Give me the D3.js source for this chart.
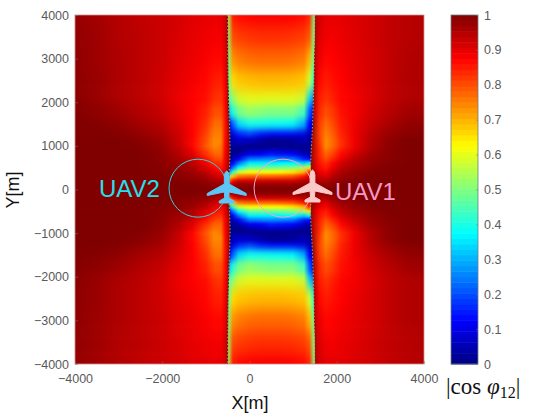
<!DOCTYPE html>
<html>
<head>
<meta charset="utf-8">
<style>
  html, body { margin: 0; padding: 0; background: #fff; }
  svg { display: block; }
  text { font-family: "Liberation Sans", sans-serif; }
  .tick text { fill: #5a5a5a; font-size: 12.5px; font-family: "Liberation Sans", sans-serif; }
  .tick line { stroke: #777; stroke-opacity: 0.5; }
  .domain { stroke: none; }
</style>
<script src="https://cdn.jsdelivr.net/npm/d3@7"></script>
</head>
<body>
<svg id="chart" width="535" height="414"></svg>
<script>
// upper half of the map (lower half looks the same)
const rowY = [4000, 3500, 3000, 2500, 2000, 1750, 1500, 1250, 1100, 1000, 900, 800, 700, 600, 500, 400, 300, 200, 100, 0];
const edgeLeft = [-500, -500, -495, -490, -480, -470, -460, -450, -450, -445, -445, -450, -450, -455, -460, -465, -470, -480, -490, -500];
const edgeRight = [1495, 1490, 1485, 1475, 1465, 1455, 1445, 1435, 1425, 1420, 1415, 1410, 1405, 1400, 1400, 1400, 1405, 1410, 1420, 1430];

const leftX = [-4000, -3500, -3000, -2500, -2000, -1600, -1300, -1000, -800, -650, -560];
const leftValues = [
  [.98, .965, .95, .935, .925, .915, .905, .90, .895, .90, .92, .95],
  [.98, .97, .95, .94, .925, .91, .90, .89, .885, .885, .91, .95],
  [.985, .97, .955, .94, .925, .905, .895, .88, .87, .87, .90, .95],
  [.985, .975, .955, .94, .92, .90, .885, .87, .85, .845, .885, .955],
  [.99, .975, .955, .94, .92, .89, .875, .86, .83, .82, .87, .96],
  [.995, .985, .97, .95, .93, .90, .875, .845, .80, .80, .865, .965],
  [1, .995, .985, .965, .945, .91, .875, .83, .77, .77, .86, .97],
  [1, 1, .995, .98, .96, .92, .875, .81, .75, .755, .86, .97],
  [1, 1, 1, .99, .97, .925, .87, .80, .74, .75, .865, .97],
  [1, 1, 1, .995, .975, .93, .87, .79, .74, .76, .87, .97],
  [1, 1, 1, 1, .98, .94, .89, .81, .76, .77, .875, .97],
  [1, 1, 1, 1, .985, .95, .905, .83, .78, .78, .88, .97],
  [1, 1, 1, 1, .985, .96, .925, .86, .81, .80, .885, .97],
  [1, 1, 1, 1, .99, .97, .94, .89, .84, .83, .89, .97],
  [1, 1, 1, 1, .99, .975, .955, .91, .87, .85, .90, .97],
  [1, 1, 1, 1, .995, .985, .97, .94, .90, .88, .92, .975],
  [1, 1, 1, 1, 1, .99, .98, .96, .93, .91, .935, .98],
  [1, 1, 1, 1, 1, .995, .99, .98, .96, .95, .96, .985],
  [1, 1, 1, 1, 1, 1, 1, .99, .98, .98, .98, .99],
  [1, 1, 1, 1, 1, 1, 1, 1, 1, 1, 1, 1]
];

const centreX = [-380, -250, 0, 250, 500, 750, 1000, 1250, 1370];
const centreValues = [
  [.55, .85, .865, .875, .88, .88, .88, .875, .865, .84, .50],
  [.52, .80, .815, .825, .83, .83, .83, .825, .815, .79, .50],
  [.50, .735, .755, .77, .775, .775, .775, .77, .755, .70, .48],
  [.48, .66, .68, .69, .695, .695, .695, .69, .68, .58, .42],
  [.45, .51, .58, .60, .60, .60, .60, .60, .57, .33, .25],
  [.33, .41, .49, .525, .51, .50, .50, .50, .44, .22, .14],
  [.13, .22, .34, .39, .39, .385, .38, .37, .29, .13, .07],
  [.06, .09, .15, .18, .14, .115, .12, .11, .09, .05, .04],
  [.04, .05, .07, .065, .04, .02, .02, .03, .05, .03, .03],
  [.03, .03, .03, .01, .01, .01, .01, .01, .015, .02, .02],
  [.02, .01, 0, .04, .05, .07, .06, .05, .02, .02, .03],
  [.02, .02, .05, .11, .12, .15, .14, .13, .07, .04, .05],
  [.03, .05, .11, .24, .25, .26, .25, .24, .15, .13, .12],
  [.07, .11, .24, .36, .36, .36, .37, .375, .33, .375, .30],
  [.14, .24, .375, .48, .48, .48, .49, .50, .55, .65, .55],
  [.28, .42, .58, .62, .62, .62, .63, .65, .70, .84, .75],
  [.50, .68, .76, .78, .78, .78, .79, .80, .86, .92, .88],
  [.75, .87, .92, .92, .92, .92, .92, .92, .95, .96, .95],
  [.95, .97, .985, .985, .985, .985, .985, .985, .985, .985, .98],
  [.99, 1, 1, 1, 1, 1, 1, 1, 1, 1, .99]
];

const rightX = [1600, 1750, 1900, 2100, 2400, 2800, 3200, 3600, 4000];
const rightValues = [
  [.95, .92, .90, .90, .90, .91, .92, .935, .945, .95],
  [.95, .91, .89, .885, .895, .905, .92, .935, .945, .95],
  [.95, .895, .87, .875, .885, .90, .915, .935, .95, .955],
  [.955, .87, .85, .86, .875, .895, .915, .935, .95, .955],
  [.96, .85, .825, .845, .87, .885, .91, .935, .95, .955],
  [.965, .84, .80, .82, .86, .885, .92, .945, .965, .97],
  [.97, .82, .77, .80, .85, .89, .93, .96, .98, .985],
  [.97, .81, .75, .78, .84, .89, .945, .975, .99, .995],
  [.97, .82, .74, .77, .83, .89, .95, .985, 1, 1],
  [.97, .83, .74, .77, .83, .89, .955, .985, 1, 1],
  [.97, .84, .76, .79, .85, .905, .96, .99, 1, 1],
  [.97, .84, .78, .81, .87, .92, .97, .99, 1, 1],
  [.97, .85, .80, .84, .89, .94, .975, .99, 1, 1],
  [.97, .86, .83, .87, .92, .955, .98, .995, 1, 1],
  [.97, .87, .85, .89, .935, .965, .985, 1, 1, 1],
  [.975, .90, .88, .92, .955, .98, .995, 1, 1, 1],
  [.98, .925, .91, .945, .97, .985, 1, 1, 1, 1],
  [.985, .955, .95, .97, .985, .995, 1, 1, 1, 1],
  [.99, .98, .98, .99, .995, 1, 1, 1, 1, 1],
  [1, 1, 1, 1, 1, 1, 1, 1, 1, 1]
];

const yTicks = [-4000, -3000, -2000, -1000, 0, 1000, 2000, 3000, 4000];
const xTicks = [-4000, -2000, 0, 2000, 4000];
const barTicks = [0, 0.1, 0.2, 0.3, 0.4, 0.5, 0.6, 0.7, 0.8, 0.9, 1];

const uavs = [
  { name: "UAV2", x: -522, y: 57, circleX: -1180, circleY: 30, circle: "#2fd3dc", plane: "#5cc6f7", text: "#1fe0ee", labelX: 99, labelY: 197 },
  { name: "UAV1", x: 1444, y: 80, circleX: 770, circleY: 30, circle: "#f3a6c8", plane: "#fcc9c9", text: "#f29ac4", labelX: 335, labelY: 200 }
];
const planeShape = [[0, -16], [1.6, -14.5], [2.4, -11], [2.4, -3], [19.5, 6.5], [19.5, 8.5], [2.4, 5], [2, 11], [7.5, 14], [7.5, 16], [-7.5, 16], [-7.5, 14], [-2, 11], [-2.4, 5], [-19.5, 8.5], [-19.5, 6.5], [-2.4, -3], [-2.4, -11], [-1.6, -14.5]];

const margin = { top: 15, right: 111, bottom: 50, left: 75 };
const width = 535 - margin.left - margin.right;
const height = 414 - margin.top - margin.bottom;

const x = d3.scaleLinear().domain([-4000, 4000]).range([margin.left, margin.left + width]);
const y = d3.scaleLinear().domain([-4000, 4000]).range([margin.top + height, margin.top]);
const offset = d3.scaleLinear().domain([-4000, 4000]).range([0, 1]);

const jet = d3.scaleLinear()
  .domain([0, 0.125, 0.375, 0.625, 0.875, 1])
  .range(["#000080", "#0000ff", "#00ffff", "#ffff00", "#ff0000", "#800000"]);

const svg = d3.select("#chart");
const defs = svg.append("defs");

defs.append("clipPath").attr("id", "plot-clip").append("rect")
  .attr("x", margin.left).attr("y", margin.top).attr("width", width).attr("height", height);

function addBlur(id, sd) {
  defs.append("filter").attr("id", id).attr("filterUnits", "userSpaceOnUse")
    .attr("x", 0).attr("y", -100).attr("width", 535).attr("height", 614)
    .attr("color-interpolation-filters", "sRGB")
    .append("feGaussianBlur").attr("stdDeviation", "0 " + sd);
}
addBlur("blur-far", 7);
addBlur("blur-mid", 3.5);
addBlur("blur-near", 1.6);

// one row per table line, the lower half is the upper half flipped
const rows = [];
rowY.forEach((v, i) => {
  rows.push({ v, i });
  if (v !== 0) rows.push({ v: -v, i });
});
rows.sort((a, b) => b.v - a.v);
rows.forEach((r, k) => {
  const up = k === 0 ? 4400 : (rows[k - 1].v + r.v) / 2;
  const down = k === rows.length - 1 ? -4400 : (rows[k + 1].v + r.v) / 2;
  r.top = y(up);
  r.bottom = y(down);
  r.id = "row-" + k;
  const stops = [];
  leftX.forEach((c, j) => stops.push([c, leftValues[r.i][j]]));
  stops.push([edgeLeft[r.i], leftValues[r.i][11]]);
  stops.push([edgeLeft[r.i], centreValues[r.i][0]]);
  centreX.forEach((c, j) => stops.push([c, centreValues[r.i][j + 1]]));
  stops.push([edgeRight[r.i], centreValues[r.i][10]]);
  stops.push([edgeRight[r.i], rightValues[r.i][0]]);
  rightX.forEach((c, j) => stops.push([c, rightValues[r.i][j + 1]]));
  defs.append("linearGradient").attr("id", r.id)
    .attr("gradientUnits", "userSpaceOnUse")
    .attr("x1", x(-4000)).attr("x2", x(4000)).attr("y1", 0).attr("y2", 0)
    .selectAll("stop").data(stops).join("stop")
    .attr("offset", d => offset(d[0]))
    .attr("stop-color", d => jet(d[1]));
});

const map = svg.append("g").attr("clip-path", "url(#plot-clip)");

function drawRows(data, filter) {
  map.append("g").attr("filter", filter)
    .selectAll("rect").data(data).join("rect")
    .attr("x", margin.left).attr("width", width)
    .attr("y", d => d.top)
    .attr("height", d => d.bottom - d.top + 0.5)
    .attr("fill", d => "url(#" + d.id + ")");
}
drawRows(rows, "url(#blur-far)");
drawRows(rows.filter(r => Math.abs(r.v) <= 1750), "url(#blur-mid)");
drawRows(rows.filter(r => Math.abs(r.v) <= 1100), "url(#blur-near)");

// dotted seams along both discontinuities
[edgeLeft, edgeRight].forEach(edge => {
  const seam = d3.line().x(d => x(edge[d.i])).y(d => y(d.v));
  map.append("path").attr("d", seam(rows)).attr("fill", "none")
    .attr("stroke", "#3a1010").attr("stroke-width", 0.9).attr("stroke-opacity", edge === edgeLeft ? 0.7 : 0.3);
  map.append("path").attr("d", seam(rows)).attr("fill", "none")
    .attr("stroke", "#a8d48c").attr("stroke-width", 1).attr("stroke-opacity", 0.8).attr("stroke-dasharray", "1.5 2");
});

// plot frame
svg.append("rect").attr("x", margin.left).attr("y", margin.top)
  .attr("width", width).attr("height", height)
  .attr("fill", "none").attr("stroke", "#c98f8f").attr("stroke-width", 0.8);

svg.append("g").attr("transform", "translate(0," + (margin.top + height) + ")")
  .call(d3.axisBottom(x).tickValues(xTicks).tickFormat(d3.format("d")).tickSize(-3).tickPadding(10));
svg.append("g").attr("transform", "translate(" + margin.left + ",0)")
  .call(d3.axisLeft(y).tickValues(yTicks).tickFormat(d3.format("d")).tickSize(-3).tickPadding(6));

svg.append("text").attr("x", 250).attr("y", 409).attr("text-anchor", "middle")
  .attr("font-size", 18).attr("fill", "#111").text("X[m]");
svg.append("text").attr("transform", "translate(19,190) rotate(-90)").attr("text-anchor", "middle")
  .attr("font-size", 18).attr("fill", "#111").text("Y[m]");

// UAV markers
const planeLine = d3.line().curve(d3.curveLinearClosed);
const rPx = 29;
uavs.forEach(u => {
  svg.append("circle").attr("cx", x(u.circleX)).attr("cy", y(u.circleY)).attr("r", rPx)
    .attr("fill", "none").attr("stroke", u.circle).attr("stroke-width", 1);
  svg.append("path").attr("transform", "translate(" + x(u.x) + "," + y(u.y) + ")")
    .attr("d", planeLine(planeShape)).attr("fill", u.plane)
    .attr("stroke", u.plane).attr("stroke-width", 1).attr("stroke-linejoin", "round");
  svg.append("text").attr("x", u.labelX).attr("y", u.labelY)
    .attr("font-size", 24).attr("fill", u.text).text(u.name);
});

// colorbar
const barX = 451, barW = 27;
const barY = d3.scaleLinear().domain([0, 1]).range([margin.top + height, margin.top]);
const levels = d3.range(64).map(i => i / 64);
svg.append("g").selectAll("rect").data(levels).join("rect")
  .attr("x", barX).attr("width", barW)
  .attr("y", d => barY(d + 1 / 64))
  .attr("height", d => barY(d) - barY(d + 1 / 64) + 0.5)
  .attr("fill", d => jet(d + 1 / 128));
svg.append("rect").attr("x", barX).attr("y", margin.top).attr("width", barW).attr("height", height)
  .attr("fill", "none").attr("stroke", "#6f7f7f").attr("stroke-width", 0.8);
svg.append("g").attr("transform", "translate(" + (barX + barW) + ",0)")
  .call(d3.axisRight(barY).tickValues(barTicks).tickFormat(d => String(d)).tickSize(-2).tickPadding(6));

// colorbar caption
const caption = svg.append("text").attr("x", 446).attr("y", 394)
  .attr("font-size", 23).attr("fill", "#111")
  .style("font-family", "'Liberation Serif', serif");
caption.append("tspan").text("|cos ");
caption.append("tspan").attr("font-style", "italic").text("φ");
caption.append("tspan").attr("font-size", 16).attr("dy", 4).text("12");
caption.append("tspan").attr("dy", -4).text("|");
</script>
</body>
</html>
